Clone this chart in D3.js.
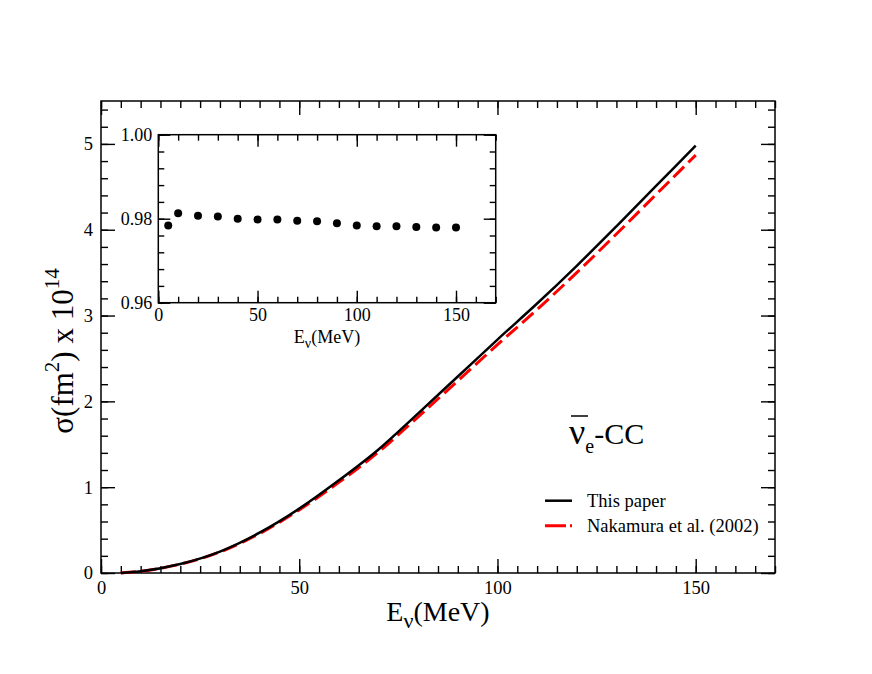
<!DOCTYPE html>
<html>
<head>
<meta charset="utf-8">
<script src="https://cdn.jsdelivr.net/npm/d3@7"></script>
<style>
  body { margin: 0; background: #fff; }
  svg text { font-family: "Liberation Serif", "Times New Roman", serif; fill: #000; }
</style>
</head>
<body>
<div id="container"></div>
<script>
/* DATA */
var energies = [5, 10, 20, 30, 40, 50, 60, 70, 80, 90, 100, 110, 120, 130, 140, 150];
var sigmaThisPaper = [0.0, 0.02, 0.105, 0.25, 0.47, 0.75, 1.08, 1.44, 1.86, 2.29, 2.72, 3.14, 3.58, 4.04, 4.51, 4.98];
var sigmaNakamura = [0.0, 0.02, 0.103, 0.245, 0.46, 0.735, 1.056, 1.41, 1.82, 2.24, 2.66, 3.07, 3.50, 3.95, 4.41, 4.87];
var ratioValues = [0.9784, 0.9813, 0.9807, 0.9805, 0.9800, 0.9798, 0.9798, 0.9795, 0.9794, 0.9789, 0.9784, 0.9782, 0.9782, 0.9780, 0.9779, 0.9779];

var mainXTicks = [0, 50, 100, 150];
var mainYTicks = [0, 1, 2, 3, 4, 5];
var insetXTicks = [0, 50, 100, 150];
var insetYTicks = [0.96, 0.98, 1.00];
var legendLabels = ["This paper", "Nakamura et al. (2002)"];

/* CONSTANTS */
var W = 872, H = 674;
var serif = "Liberation Serif, Times New Roman, serif";
var main = { left: 101, right: 775, top: 101, bottom: 573 };
var inset = { left: 158.3, right: 495.7, top: 134.7, bottom: 302.7 };

var svg = d3.select("#container")
  .append("svg")
  .attr("width", W)
  .attr("height", H)
  .attr("font-family", serif);

// scales
var x = d3.scaleLinear().domain([0, 170]).range([main.left, main.right]);
var y = d3.scaleLinear().domain([0, 5.5]).range([main.bottom, main.top]);
var xi = d3.scaleLinear().domain([0, 170]).range([inset.left, inset.right]);
var yi = d3.scaleLinear().domain([0.96, 1.00]).range([inset.bottom, inset.top]);

function range(a, b, step) {
  var out = [];
  for (var v = a; v <= b + 1e-9; v += step) out.push(+v.toFixed(4));
  return out;
}

// ticks on all four sides (pointing inward) plus the box
function frame(g, sx, sy, box, xMajor, xMinor, yMajor, yMinor, majorLen, minorLen, fmtX, fmtY, fontSize, pad) {
  var sides = [
    { ax: d3.axisBottom, s: sx, t: box.bottom, horiz: true, labels: true },
    { ax: d3.axisTop, s: sx, t: box.top, horiz: true, labels: false },
    { ax: d3.axisLeft, s: sy, t: box.left, horiz: false, labels: true },
    { ax: d3.axisRight, s: sy, t: box.right, horiz: false, labels: false }
  ];
  sides.forEach(function (sd) {
    var tr = sd.horiz ? "translate(0," + sd.t + ")" : "translate(" + sd.t + ",0)";
    var minor = sd.horiz ? xMinor : yMinor;
    var major = sd.horiz ? xMajor : yMajor;
    g.append("g").attr("transform", tr)
      .call(sd.ax(sd.s).tickValues(minor).tickSize(-minorLen).tickFormat(""))
      .call(function (a) { a.select(".domain").remove(); });
    var ga = g.append("g").attr("transform", tr)
      .call(sd.ax(sd.s).tickValues(major).tickSize(-majorLen).tickPadding(pad)
        .tickFormat(sd.labels ? (sd.horiz ? fmtX : fmtY) : ""));
    ga.attr("font-family", serif).attr("font-size", fontSize);
    ga.select(".domain").remove();
    ga.selectAll("text")
      .attr("font-family", serif)
      .style("font-size", fontSize + "px");
    g.selectAll(".tick line").attr("stroke", "#000").attr("stroke-width", 1.4);
  });
  g.append("rect")
    .attr("x", box.left).attr("y", box.top)
    .attr("width", box.right - box.left).attr("height", box.bottom - box.top)
    .attr("fill", "none").attr("stroke", "#000").attr("stroke-width", 1.5);
}

/* MAIN PLOT */
var gMain = svg.append("g");
frame(gMain, x, y, main,
  mainXTicks, range(0, 170, 5), mainYTicks, range(0, 5.4, 0.2),
  14, 7, d3.format("d"), d3.format("d"), 18.5, 8);

var line = d3.line()
  .x(function (d, i) { return x(energies[i]); })
  .y(function (d) { return y(d); })
  .curve(d3.curveMonotoneX);

gMain.append("path")
  .attr("d", line(sigmaNakamura))
  .attr("fill", "none")
  .attr("stroke", "#ff0000")
  .attr("stroke-width", 3)
  .attr("stroke-dasharray", "15,6");

gMain.append("path")
  .attr("d", line(sigmaThisPaper))
  .attr("fill", "none")
  .attr("stroke", "#000")
  .attr("stroke-width", 2.5);

// axis titles
var xt = svg.append("text")
  .attr("x", 438).attr("y", 621)
  .attr("text-anchor", "middle")
  .style("font-size", "28px");
xt.append("tspan").text("E");
xt.append("tspan").attr("dy", 7).style("font-size", "22px").text("ν");
xt.append("tspan").attr("dy", -7).text("(MeV)");

var yt = svg.append("text")
  .attr("transform", "translate(73,351) rotate(-90)")
  .attr("text-anchor", "middle")
  .style("font-size", "31px");
yt.append("tspan").text("σ(fm");
yt.append("tspan").attr("dy", -14).style("font-size", "21px").text("2");
yt.append("tspan").attr("dy", 14).text(") x 10");
yt.append("tspan").attr("dy", -14).style("font-size", "21px").text("14");

// reaction label
var rl = svg.append("text")
  .attr("x", 569).attr("y", 443.5)
  .style("font-size", "30px");
rl.append("tspan").style("font-size", "36px").text("ν");
rl.append("tspan").attr("dy", 9).style("font-size", "20px").text("e");
rl.append("tspan").attr("dy", -9).text("-CC");
svg.append("line")
  .attr("x1", 571).attr("x2", 588)
  .attr("y1", 416).attr("y2", 416)
  .attr("stroke", "#000").attr("stroke-width", 1.5);

// legend
var legendY = [500.7, 525.7];
var legendStyles = [
  { color: "#000", dash: null, width: 2.5 },
  { color: "#ff0000", dash: "21,4", width: 3 }
];
legendLabels.forEach(function (lab, i) {
  svg.append("line")
    .attr("x1", 545).attr("x2", 572)
    .attr("y1", legendY[i]).attr("y2", legendY[i])
    .attr("stroke", legendStyles[i].color)
    .attr("stroke-width", legendStyles[i].width)
    .attr("stroke-dasharray", legendStyles[i].dash);
  svg.append("text")
    .attr("x", 587).attr("y", legendY[i] + 6)
    .style("font-size", "18.5px")
    .text(lab);
});

/* INSET */
var gIn = svg.append("g");
gIn.append("rect")
  .attr("x", inset.left).attr("y", inset.top)
  .attr("width", inset.right - inset.left).attr("height", inset.bottom - inset.top)
  .attr("fill", "#fff");
frame(gIn, xi, yi, inset,
  insetXTicks, range(0, 170, 10), insetYTicks, range(0.96, 1.0, 0.004),
  12, 6, d3.format("d"), d3.format(".2f"), 18, 6);

gIn.selectAll("circle.pt")
  .data(ratioValues)
  .enter()
  .append("circle")
  .attr("class", "pt")
  .attr("cx", function (d, i) { return xi(energies[i]); })
  .attr("cy", function (d) { return yi(d); })
  .attr("r", 4)
  .attr("fill", "#000");

var it = svg.append("text")
  .attr("x", 327).attr("y", 343)
  .attr("text-anchor", "middle")
  .style("font-size", "18px");
it.append("tspan").text("E");
it.append("tspan").attr("dy", 5).style("font-size", "14px").text("ν");
it.append("tspan").attr("dy", -5).text("(MeV)");
</script>
</body>
</html>
